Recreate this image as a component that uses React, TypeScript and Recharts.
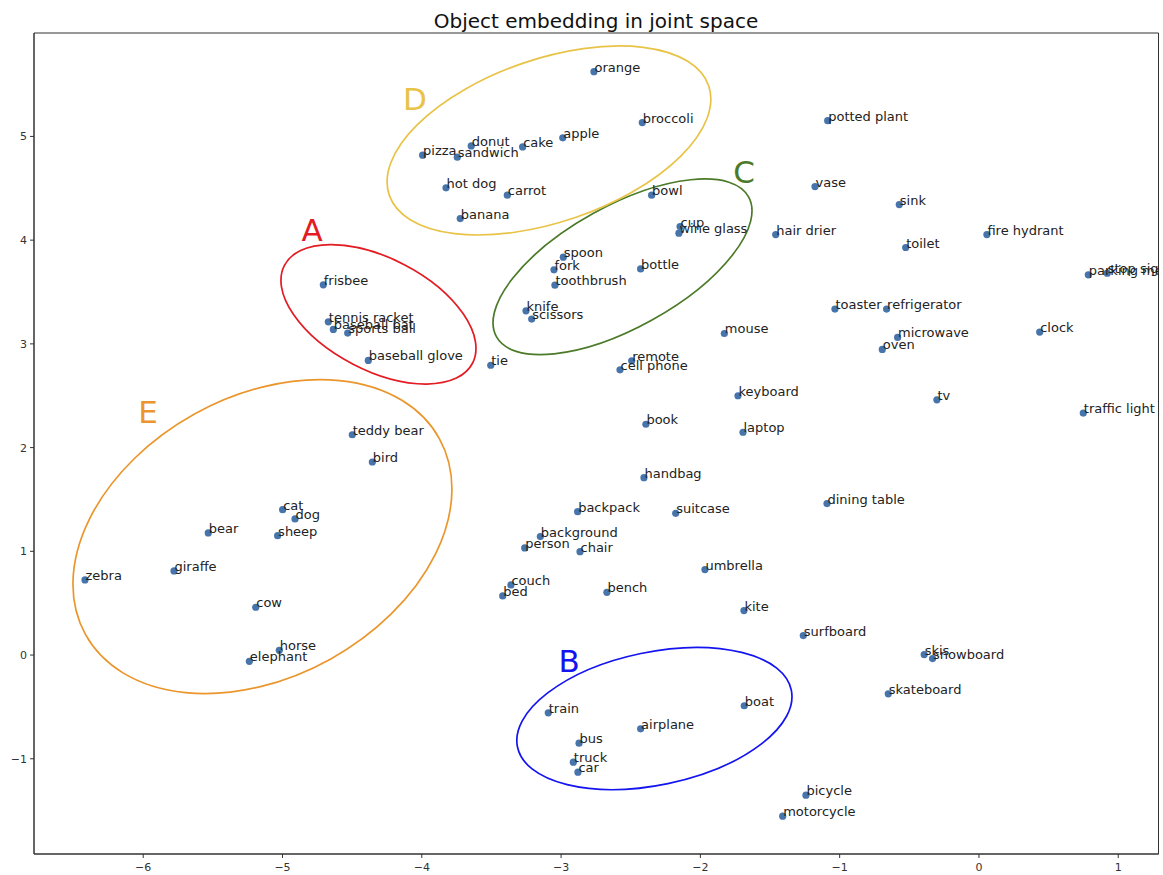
import React from "react";
import { ScatterChart, Scatter, XAxis, YAxis, ReferenceArea } from "recharts";

// ---- data ----
const labels = [
  "orange", "broccoli", "apple", "cake", "donut", "pizza", "sandwich", "hot dog", "carrot", "banana",
  "bowl", "cup", "wine glass", "spoon", "fork", "toothbrush", "bottle", "knife", "scissors", "mouse",
  "remote", "cell phone", "tie", "frisbee", "tennis racket", "baseball bat", "sports ball", "baseball glove", "teddy bear", "bird",
  "cat", "dog", "sheep", "bear", "giraffe", "zebra", "cow", "horse", "elephant", "backpack",
  "background", "person", "chair", "couch", "bed", "bench", "suitcase", "train", "bus", "truck",
  "car", "airplane", "boat", "bicycle", "motorcycle", "surfboard", "skis", "snowboard", "skateboard", "potted plant",
  "vase", "sink", "hair drier", "toilet", "fire hydrant", "toaster", "refrigerator", "microwave", "oven", "clock",
  "parking meter", "stop sign", "traffic light", "keyboard", "laptop", "book", "handbag", "dining table", "umbrella", "kite",
  "tv",
];
const xValues = [
  -2.764, -2.417, -2.988, -3.276, -3.645, -3.994, -3.745, -3.826, -3.386, -3.724,
  -2.350, -2.146, -2.154, -2.984, -3.051, -3.044, -2.429, -3.252, -3.211, -1.828,
  -2.493, -2.577, -3.505, -4.707, -4.671, -4.635, -4.532, -4.384, -4.499, -4.355,
  -4.999, -4.910, -5.035, -5.533, -5.779, -6.418, -5.192, -5.023, -5.238, -2.881,
  -3.149, -3.261, -2.864, -3.360, -3.419, -2.671, -2.177, -3.092, -2.871, -2.912,
  -2.879, -2.429, -1.685, -1.242, -1.409, -1.261, -0.393, -0.333, -0.651, -1.086,
  -1.177, -0.572, -1.459, -0.526, 0.057, -1.034, -0.663, -0.584, -0.694, 0.436,
  0.785, 0.921, 0.749, -1.730, -1.694, -2.391, -2.405, -1.091, -1.967, -1.687,
  -0.302,
];
const yValues = [
  5.624, 5.133, 4.986, 4.899, 4.908, 4.819, 4.800, 4.504, 4.434, 4.208,
  4.434, 4.131, 4.067, 3.836, 3.714, 3.566, 3.723, 3.319, 3.239, 3.100,
  2.837, 2.750, 2.794, 3.569, 3.213, 3.139, 3.104, 2.840, 2.124, 1.861,
  1.402, 1.312, 1.151, 1.177, 0.811, 0.724, 0.461, 0.046, -0.060, 1.382,
  1.142, 1.033, 0.997, 0.676, 0.570, 0.605, 1.366, -0.557, -0.850, -1.033,
  -1.129, -0.711, -0.489, -1.351, -1.553, 0.188, 0.005, -0.034, -0.374, 5.152,
  4.516, 4.343, 4.054, 3.929, 4.054, 3.335, 3.335, 3.062, 2.946, 3.114,
  3.666, 3.682, 2.333, 2.500, 2.148, 2.225, 1.710, 1.460, 0.824, 0.429,
  2.461,
];

// cluster annotations (data units; a, b semi-axes in x-units; angle in degrees)
const clusterNames = ["A", "B", "C", "D", "E"];
const clusterCenterX = [-4.311, -2.330, -2.559, -3.087, -5.144];
const clusterCenterY = [3.285, -0.612, 3.743, 4.961, 1.142];
const clusterSemiA = [0.761, 1.004, 1.035, 1.212, 1.452];
const clusterSemiB = [0.402, 0.477, 0.437, 0.585, 1.006];
const clusterAngle = [27.5, -11.75, -29, -18.9, -29];
const letterX = [-4.788, -2.943, -1.687, -4.049, -5.966];
const letterY = [3.993, -0.159, 4.552, 5.255, 2.240];

const xTicks = [-6, -5, -4, -3, -2, -1, 0, 1];
const yTicks = [-1, 0, 1, 2, 3, 4, 5];
const TITLE = "Object embedding in joint space";

// ---- layout / style ----
const W = 1163;
const H = 875;
const MARGIN = { top: 33, right: 4.5, bottom: 0, left: 0 };
const Y_AXIS_W = 34;
const X_AXIS_H = 21;
const XMIN = -6.784;
const XMAX = 1.289;
const YMIN = -1.918;
const YMAX = 5.997;
const PLOT_W = W - MARGIN.left - MARGIN.right - Y_AXIS_W;
const PX_PER_X = PLOT_W / (XMAX - XMIN);
const FONT = "'DejaVu Sans', sans-serif";
const clusterColors: Record<string, string> = {
  A: "#e31b23",
  B: "#1414f0",
  C: "#4b7a28",
  D: "#e8c347",
  E: "#ea962c",
};
const DOT_COLOR = "#4674ab";

const points = labels.map((name, i) => ({ name, x: xValues[i], y: yValues[i] }));
const ellipses = clusterNames.map((k, i) => ({
  k,
  x: clusterCenterX[i],
  y: clusterCenterY[i],
  a: clusterSemiA[i],
  b: clusterSemiB[i],
  angle: clusterAngle[i],
}));
const letters = clusterNames.map((k, i) => ({ k, x: letterX[i], y: letterY[i] }));

const fmt = (v: number) => String(v).replace("-", "\u2212");

const EllipseShape = (props: any) => {
  const { cx, cy, payload } = props;
  if (cx == null || cy == null) return <g />;
  const rx = payload.a * PX_PER_X;
  const ry = payload.b * PX_PER_X;
  return (
    <ellipse
      cx={cx}
      cy={cy}
      rx={rx}
      ry={ry}
      transform={`rotate(${payload.angle} ${cx} ${cy})`}
      fill="none"
      stroke={clusterColors[payload.k]}
      strokeWidth={1.7}
    />
  );
};

const DotShape = (props: any) => {
  const { cx, cy } = props;
  if (cx == null || cy == null) return <g />;
  return <circle cx={cx} cy={cy} r={3.6} fill={DOT_COLOR} />;
};

const LabelShape = (props: any) => {
  const { cx, cy, payload } = props;
  if (cx == null || cy == null) return <g />;
  return (
    <text x={cx + 0.5} y={cy} fontSize={13} fontFamily={FONT} fill="#222">
      {payload.name}
    </text>
  );
};

const LetterShape = (props: any) => {
  const { cx, cy, payload } = props;
  if (cx == null || cy == null) return <g />;
  return (
    <text x={cx} y={cy} fontSize={31} fontFamily={FONT} textAnchor="middle" fill={clusterColors[payload.k]}>
      {payload.k}
    </text>
  );
};

export default function App() {
  return (
    <div style={{ position: "relative", width: W, height: H, background: "#fff" }}>
      <style>{"html,body{margin:0;padding:0;overflow:hidden;background:#fff}"}</style>
      <ScatterChart width={W} height={H} margin={MARGIN}>
        <XAxis
          type="number"
          dataKey="x"
          domain={[XMIN, XMAX]}
          ticks={xTicks}
          allowDataOverflow
          height={X_AXIS_H}
          tickFormatter={fmt}
          tickSize={4}
          tickMargin={5}
          stroke="#333"
          tick={{ fontSize: 11, fill: "#333", fontFamily: FONT }}
        />
        <YAxis
          type="number"
          dataKey="y"
          domain={[YMIN, YMAX]}
          ticks={yTicks}
          allowDataOverflow
          width={Y_AXIS_W}
          tickFormatter={fmt}
          tickSize={4}
          tickMargin={3}
          stroke="#333"
          tick={{ fontSize: 11, fill: "#333", fontFamily: FONT }}
        />
        <ReferenceArea
          x1={XMIN}
          x2={XMAX}
          y1={YMIN}
          y2={YMAX}
          fill="none"
          fillOpacity={0}
          stroke="#333"
          strokeWidth={1}
          ifOverflow="visible"
        />
        <Scatter data={ellipses} shape={EllipseShape} isAnimationActive={false} />
        <Scatter data={points} shape={DotShape} isAnimationActive={false} />
        <Scatter data={points} shape={LabelShape} isAnimationActive={false} />
        <Scatter data={letters} shape={LetterShape} isAnimationActive={false} />
      </ScatterChart>
      <svg
        width={W}
        height={40}
        style={{ position: "absolute", left: 0, top: 0, pointerEvents: "none" }}
      >
        <text x={596} y={28} fontSize={20} fontFamily={FONT} textAnchor="middle" fill="#111">
          {TITLE}
        </text>
      </svg>
    </div>
  );
}
